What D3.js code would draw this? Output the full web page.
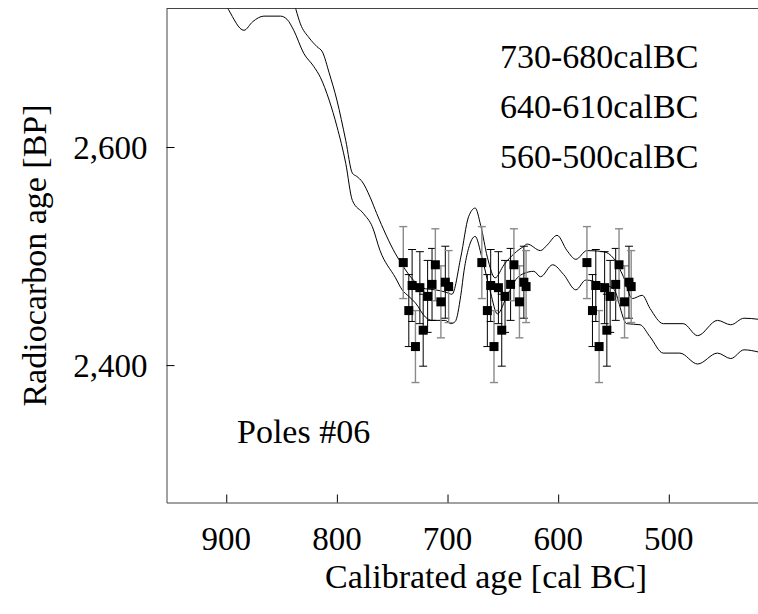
<!DOCTYPE html>
<html>
<head>
<meta charset="utf-8">
<script src="https://cdn.jsdelivr.net/npm/d3@7"></script>
</head>
<body style="margin:0; font-family: 'Liberation Serif', serif">
<svg id="chart" width="758" height="614" font-family="Liberation Serif"></svg>
<script>
const PLOT_LEFT = 166.5;
const PLOT_RIGHT = 806;
const PLOT_TOP = 8.5;
const PLOT_BOTTOM = 502.5;
const FONT = "Liberation Serif";
const FONT_SIZE = 34;
const TICK_FONT_SIZE = 33;
const TICK_LENGTH = 8;
const SQUARE_SIZE = 9;
const CAP_HALF = 4;

// calibration curve, upper and lower 1-sigma envelope [cal BC, BP]
const upperCurve = [
    [840, 2737], [837, 2726], [833, 2713], [825, 2700], [818, 2692], [813, 2687],
    [807, 2668], [800, 2643], [792, 2606], [786, 2576], [782, 2573], [777, 2568],
    [770, 2554], [764, 2539], [747, 2502], [741, 2492], [735, 2483], [729, 2476],
    [720, 2470], [711, 2469], [702, 2467], [696, 2465], [688, 2499], [681, 2536],
    [675, 2544], [670, 2528], [664, 2499], [657, 2480], [649, 2492], [640, 2502],
    [631, 2509], [628, 2511], [616, 2505], [610, 2510], [601, 2519], [592, 2505],
    [584, 2497], [574, 2505], [559, 2504], [550, 2498], [541, 2481], [533, 2461],
    [524, 2464], [517, 2452], [505, 2438], [487, 2438], [474, 2427], [456, 2441],
    [444, 2437], [432, 2443], [419, 2442]
];
const lowerCurve = [
    [904, 2737], [898, 2726], [884, 2707], [876, 2715], [866, 2720], [851, 2720],
    [845, 2717], [839, 2707], [830, 2686], [821, 2674], [815, 2664], [807, 2643],
    [800, 2619], [792, 2585], [786, 2551], [776, 2539], [768, 2527], [761, 2505],
    [747, 2480], [741, 2469], [735, 2463], [729, 2457], [720, 2444], [714, 2441],
    [702, 2441], [697, 2438], [693, 2440], [688, 2464], [685, 2487], [681, 2507],
    [675, 2518], [669, 2499], [661, 2466], [655, 2447], [646, 2464], [637, 2480],
    [631, 2484], [622, 2486], [616, 2481], [605, 2492], [595, 2483], [584, 2469],
    [575, 2478], [562, 2475], [550, 2470], [538, 2438], [526, 2437], [517, 2426],
    [505, 2411], [490, 2411], [474, 2401], [456, 2411], [444, 2406], [432, 2414],
    [419, 2412]
];

// the same 12 ring samples placed at three candidate positions
const sampleBP = [2494, 2450, 2473, 2417, 2471, 2432, 2463, 2474, 2492, 2458, 2476, 2472];
const sampleError = [33, 33, 33, 33, 33, 33, 33, 33, 33, 33, 33, 33];
const sampleLab = [2, 1, 1, 2, 1, 1, 1, 1, 2, 2, 1, 2];
const fitYears1 = [740, 735, 732, 729, 725, 722, 718, 714, 711, 706, 702, 699];
const fitYears2 = [669, 664, 661, 658, 654, 651, 648, 643, 640, 635, 631, 629];
const fitYears3 = [574, 569, 566, 563, 558, 556, 553, 548, 545, 540, 536, 534];

const xTicks = [900, 800, 700, 600, 500];
const yTicks = [2400, 2600];
const rangeLabels = ["730-680calBC", "640-610calBC", "560-500calBC"];
const siteLabel = "Poles #06";
const xTitle = "Calibrated age [cal BC]";
const yTitle = "Radiocarbon age [BP]";

const labColor = { 1: "#000", 2: "#8a8a8a" };

const svg = d3.select("#chart");

const x = d3.scaleLinear().domain([954, 376]).range([PLOT_LEFT, PLOT_RIGHT]);
const y = d3.scaleLinear().domain([2274, 2727]).range([PLOT_BOTTOM, PLOT_TOP]);

// text first, so nothing earlier in the tree sets a sans family
const labels = [
    { t: rangeLabels[0], x: 500, y: 68, a: "start" },
    { t: rangeLabels[1], x: 500, y: 118, a: "start" },
    { t: rangeLabels[2], x: 500, y: 168, a: "start" },
    { t: siteLabel, x: 237, y: 443, a: "start" },
    { t: xTitle, x: 486, y: 588, a: "middle" }
];
svg.selectAll("text.label")
    .data(labels)
    .enter()
    .append("text")
    .attr("class", "label")
    .attr("x", d => d.x)
    .attr("y", d => d.y)
    .attr("font-size", FONT_SIZE)
    .attr("font-family", FONT)
    .attr("text-anchor", d => d.a)
    .text(d => d.t);

svg.append("text")
    .attr("transform", `translate(46,${(PLOT_TOP + PLOT_BOTTOM) / 2}) rotate(-90)`)
    .attr("font-size", FONT_SIZE)
    .attr("font-family", FONT)
    .attr("text-anchor", "middle")
    .text(yTitle);

// tick labels drawn from the scales as plain text
svg.selectAll("text.xtick")
    .data(xTicks)
    .enter()
    .append("text")
    .attr("class", "xtick")
    .attr("x", d => x(d))
    .attr("y", PLOT_BOTTOM + 47)
    .attr("font-size", TICK_FONT_SIZE)
    .attr("font-family", FONT)
    .attr("text-anchor", "middle")
    .text(d => d);

svg.selectAll("text.ytick")
    .data(yTicks)
    .enter()
    .append("text")
    .attr("class", "ytick")
    .attr("x", PLOT_LEFT - 19)
    .attr("y", d => y(d) + 12)
    .attr("font-size", TICK_FONT_SIZE)
    .attr("font-family", FONT)
    .attr("text-anchor", "end")
    .text(d => d3.format(",")(d));

svg.append("defs").append("clipPath")
    .attr("id", "plot-clip")
    .append("rect")
    .attr("x", PLOT_LEFT)
    .attr("y", PLOT_TOP)
    .attr("width", PLOT_RIGHT - PLOT_LEFT)
    .attr("height", PLOT_BOTTOM - PLOT_TOP);

// frame top line
svg.append("line")
    .attr("x1", PLOT_LEFT).attr("x2", PLOT_RIGHT)
    .attr("y1", PLOT_TOP).attr("y2", PLOT_TOP)
    .attr("stroke", "#444");

// axes: lines and inward ticks only
const xAxis = svg.append("g")
    .attr("transform", `translate(0,${PLOT_BOTTOM})`)
    .call(d3.axisBottom(x).tickValues(xTicks).tickSize(-TICK_LENGTH)
        .tickSizeOuter(0).tickFormat(""));
const yAxis = svg.append("g")
    .attr("transform", `translate(${PLOT_LEFT},0)`)
    .call(d3.axisLeft(y).tickValues(yTicks).tickSize(-TICK_LENGTH)
        .tickSizeOuter(0).tickFormat(""));

[xAxis, yAxis].forEach(g => {
    g.attr("font-family", null).attr("font-size", null);
    g.selectAll(".tick text").remove();
    g.select(".domain").attr("stroke", "#444");
    g.selectAll(".tick line").attr("stroke", "#000");
});

// calibration curve, clipped to the frame
const line = d3.line()
    .x(d => x(d[0]))
    .y(d => y(d[1]))
    .curve(d3.curveMonotoneX);

const curves = svg.append("g").attr("clip-path", "url(#plot-clip)");
[upperCurve, lowerCurve].forEach(c => {
    curves.append("path")
        .attr("d", line(c))
        .attr("fill", "none")
        .attr("stroke", "#000")
        .attr("stroke-width", 1);
});

// samples with error bars
const points = [];
[fitYears1, fitYears2, fitYears3].forEach(years => {
    years.forEach((yr, i) => {
        points.push({ year: yr, bp: sampleBP[i], err: sampleError[i], lab: sampleLab[i] });
    });
});

const bars = svg.append("g").selectAll("g")
    .data(points)
    .enter()
    .append("g")
    .attr("stroke", d => labColor[d.lab])
    .attr("stroke-width", d => d.lab === 2 ? 1.4 : 1);
bars.append("line")
    .attr("x1", d => x(d.year)).attr("x2", d => x(d.year))
    .attr("y1", d => y(d.bp + d.err)).attr("y2", d => y(d.bp - d.err));
bars.append("line")
    .attr("x1", d => x(d.year) - CAP_HALF).attr("x2", d => x(d.year) + CAP_HALF)
    .attr("y1", d => y(d.bp + d.err)).attr("y2", d => y(d.bp + d.err));
bars.append("line")
    .attr("x1", d => x(d.year) - CAP_HALF).attr("x2", d => x(d.year) + CAP_HALF)
    .attr("y1", d => y(d.bp - d.err)).attr("y2", d => y(d.bp - d.err));

svg.append("g").selectAll("rect")
    .data(points)
    .enter()
    .append("rect")
    .attr("x", d => x(d.year) - SQUARE_SIZE / 2)
    .attr("y", d => y(d.bp) - SQUARE_SIZE / 2)
    .attr("width", SQUARE_SIZE)
    .attr("height", SQUARE_SIZE)
    .attr("fill", "#000");
</script>
</body>
</html>
